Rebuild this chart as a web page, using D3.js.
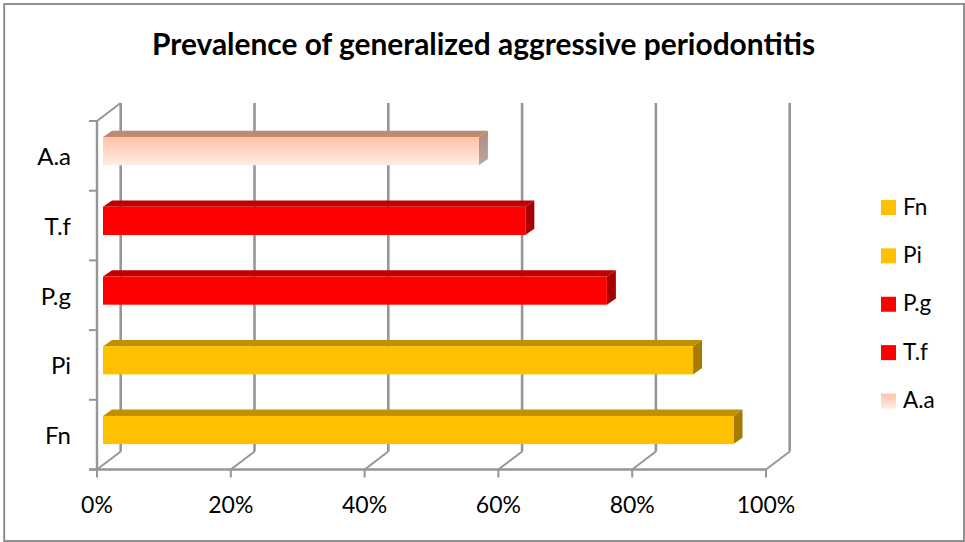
<!DOCTYPE html>
<html><head><meta charset="utf-8">
<script src="https://cdn.jsdelivr.net/npm/d3@7"></script>
<style>html,body{margin:0;padding:0;background:#fff}svg{display:block}text{font-family:Lato,"Open Sans",sans-serif;fill:#000}</style>
</head><body><svg id="c" width="965" height="542"></svg>
<script>
const categories=["Fn","Pi","P.g","T.f","A.a"];
const values=[95.1,89,76,63.7,56.7];
const seriesStyle=["gold","gold","red","red","peach"];
const xTicks=[0,20,40,60,80,100];
const title="Prevalence of generalized aggressive periodontitis";

const svg=d3.select("#c");
const palette={
 gold:{front:"#FFC000",top:"#C09000",side:"#A67C00"},
 red:{front:"#FF0000",top:"#C00000",side:"#A60000"},
 peach:{front:"url(#pf)",top:"#C08A72",side:"url(#ps)"}
};
const defs=svg.append("defs");
function grad(id,a,b){const g=defs.append("linearGradient").attr("id",id).attr("x1",0).attr("y1",0).attr("x2",0).attr("y2",1);
 g.append("stop").attr("offset",0).attr("stop-color",a);g.append("stop").attr("offset",1).attr("stop-color",b);}
grad("pf","#FFC2A6","#FFEDE6");grad("ps","#B08C7C","#B8A8A0");

svg.append("rect").attr("x",4.2).attr("y",4).attr("width",959.8).attr("height",537).attr("fill","#fff").attr("stroke","#868686").attr("stroke-width",1.8);
svg.append("text").attr("x",483.5).attr("y",55).attr("text-anchor","middle").attr("font-weight",700).attr("font-size",29.9).text(title);

const grey="#969696";
const x=d3.scaleLinear().domain([0,100]).range([97,766]);
const xBar=d3.scaleLinear().domain([0,100]).range([103,766]);
const y=d3.scaleBand().domain(categories).range([469.5,121]).padding(0);
const dx=23.7,dy=-18; // wall depth
const floorY=y.range()[0], topY=y.range()[1];
const ln=(a,b,c,d,w=2.4)=>svg.append("line").attr("x1",a).attr("y1",b).attr("x2",c).attr("y2",d).attr("stroke",grey).attr("stroke-width",w);

// back wall gridlines and floor diagonals
xTicks.forEach(t=>{
 ln(x(t)+dx,topY+dy,x(t)+dx,floorY+dy,2.6);
 ln(x(t),floorY,x(t)+dx,floorY+dy,2);
 ln(x(t),floorY,x(t),floorY+8,2);
});
// axes
ln(x(0),topY,x(0),floorY);
ln(x(0),topY,x(0)+dx,topY+dy,2);
ln(x(0)-8,floorY,x(100),floorY);
categories.concat(["_"]).forEach((c,i)=>{const yy=floorY-i*y.step();ln(x(0)-8,yy,x(0),yy,2);});

// bars
const bh=28.2,bdx=9,bdy=-6.3,offset=18.75;
categories.forEach((c,i)=>{
 const p=palette[seriesStyle[i]];
 const top=y(c)+y.bandwidth()/2-offset, x0=xBar(0), x1=xBar(values[i]);
 const g=svg.append("g");
 g.append("polygon").attr("points",[[x0,top],[x0+bdx,top+bdy],[x1+bdx,top+bdy],[x1,top]].join(" ")).attr("fill",p.top);
 g.append("polygon").attr("points",[[x1,top],[x1+bdx,top+bdy],[x1+bdx,top+bdy+bh],[x1,top+bh]].join(" ")).attr("fill",p.side);
 g.append("rect").attr("x",x0).attr("y",top).attr("width",x1-x0).attr("height",bh).attr("fill",p.front);
 svg.append("text").attr("x",71).attr("y",y(c)+y.bandwidth()/2+9.5-(i==0?2:0)*0).attr("text-anchor","end").attr("font-size",24).text(c);
});
xTicks.forEach(t=>svg.append("text").attr("x",x(t)).attr("y",513).attr("text-anchor","middle").attr("font-size",23).text(t+"%"));

// legend
const legY=d3.scalePoint().domain(categories).range([207.5,401]);
categories.forEach((c,i)=>{
 svg.append("rect").attr("x",881).attr("y",legY(c)-7.5).attr("width",15).attr("height",15).attr("fill",palette[seriesStyle[i]].front);
 svg.append("text").attr("x",903).attr("y",legY(c)+7).attr("font-size",22.5).text(c);
});
</script></body></html>
